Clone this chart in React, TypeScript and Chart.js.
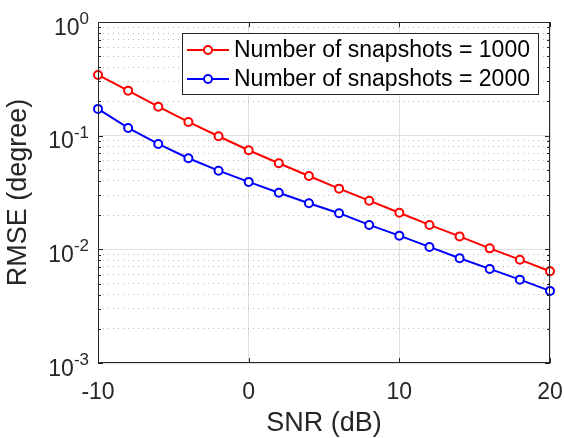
import React, { useEffect, useRef } from 'react';
import { Chart, registerables } from 'chart.js';

Chart.register(...registerables);

// ---- data ----
const SNR_DB = [-10, -8, -6, -4, -2, 0, 2, 4, 6, 8, 10, 12, 14, 16, 18, 20];
const RMSE_1000 = [0.342, 0.249, 0.18, 0.132, 0.0988, 0.0744, 0.0572, 0.0442, 0.0342, 0.0268, 0.021, 0.0164, 0.013, 0.0102, 0.00811, 0.00642];
const RMSE_2000 = [0.172, 0.117, 0.0845, 0.0633, 0.0492, 0.0392, 0.0315, 0.0254, 0.0208, 0.0164, 0.0132, 0.0105, 0.00835, 0.00673, 0.00541, 0.00431];
const SERIES_LABELS = ['Number of snapshots = 1000', 'Number of snapshots = 2000'];
const SERIES_COLORS = ['#ff0000', '#0000ff'];
const X_TICKS = [-10, 0, 10, 20];
const Y_DECADES = [0.001, 0.01, 0.1, 1];
const Y_DECADE_EXPONENTS = ['-3', '-2', '-1', '0'];
const Y_MINOR_MULTIPLIERS = [2, 3, 4, 5, 6, 7, 8, 9];
const X_TITLE = 'SNR (dB)';
const Y_TITLE = 'RMSE (degree)';

const FONT = '"Liberation Sans", Arial, Helvetica, sans-serif';
const INK = '#262626';

const yTickValues: number[] = [];
Y_DECADES.forEach((d, i) => {
  yTickValues.push(d);
  if (i < Y_DECADES.length - 1) Y_MINOR_MULTIPLIERS.forEach((m) => yTickValues.push(m * d));
});
const isMajorY = (v: number) => Y_DECADES.includes(v);

const decorPlugin = {
  id: 'matlabDecor',
  afterDraw(chart: any) {
    const { ctx, chartArea } = chart;
    const { left, right, top, bottom } = chartArea;
    const xs = chart.scales.x;
    const ys = chart.scales.y;
    ctx.save();
    // box
    ctx.strokeStyle = INK;
    ctx.lineWidth = 1;
    ctx.strokeRect(left + 0.5, top + 0.5, right - left - 1, bottom - top - 1);
    // ticks (inward, both sides)
    ctx.beginPath();
    X_TICKS.forEach((v) => {
      const px = Math.round(xs.getPixelForValue(v)) + 0.5;
      ctx.moveTo(px, bottom);
      ctx.lineTo(px, bottom - 5);
      ctx.moveTo(px, top);
      ctx.lineTo(px, top + 5);
    });
    yTickValues.forEach((v) => {
      const py = Math.round(ys.getPixelForValue(v)) + 0.5;
      const len = isMajorY(v) ? 5 : 3;
      ctx.moveTo(left, py);
      ctx.lineTo(left + len, py);
      ctx.moveTo(right, py);
      ctx.lineTo(right - len, py);
    });
    ctx.stroke();
    // y tick labels with superscript exponents
    ctx.fillStyle = INK;
    ctx.textAlign = 'left';
    ctx.textBaseline = 'alphabetic';
    Y_DECADES.forEach((v, i) => {
      const py = ys.getPixelForValue(v);
      const baseFont = `23px ${FONT}`;
      const expFont = `17px ${FONT}`;
      ctx.font = expFont;
      const ew = ctx.measureText(Y_DECADE_EXPONENTS[i]).width;
      ctx.font = baseFont;
      const bw = ctx.measureText('10').width;
      const xRight = left - 9;
      const baseY = py + 12.5;
      ctx.fillText('10', xRight - ew - bw, baseY);
      ctx.font = expFont;
      ctx.fillText(Y_DECADE_EXPONENTS[i], xRight - ew, baseY - 10.5);
    });
    // legend
    const lx = 182, ly = 33, lw = 356, lh = 61;
    ctx.fillStyle = '#ffffff';
    ctx.fillRect(lx, ly, lw, lh);
    ctx.strokeStyle = INK;
    ctx.lineWidth = 1;
    ctx.strokeRect(lx + 0.5, ly + 0.5, lw, lh);
    const rows = [50, 79];
    chart.data.datasets.forEach((ds: any, i: number) => {
      const ry = rows[i];
      ctx.strokeStyle = ds.borderColor;
      ctx.lineWidth = 2;
      ctx.beginPath();
      ctx.moveTo(187, ry);
      ctx.lineTo(229, ry);
      ctx.stroke();
      ctx.beginPath();
      ctx.arc(208, ry, 4, 0, Math.PI * 2);
      ctx.fillStyle = '#ffffff';
      ctx.fill();
      ctx.stroke();
      ctx.fillStyle = '#000000';
      ctx.font = `23px ${FONT}`;
      ctx.textBaseline = 'middle';
      ctx.fillText(ds.label, 234, ry + 1);
    });
    ctx.restore();
  },
};

export default function App() {
  const canvasRef = useRef<HTMLCanvasElement | null>(null);

  useEffect(() => {
    if (!canvasRef.current) return;
    const mkData = (ys: number[]) => SNR_DB.map((x, i) => ({ x, y: ys[i] }));
    const chart = new Chart(canvasRef.current, {
      type: 'line',
      data: {
        datasets: [
          {
            label: SERIES_LABELS[0],
            data: mkData(RMSE_1000),
            borderColor: SERIES_COLORS[0],
            backgroundColor: '#ffffff',
            pointBackgroundColor: '#ffffff',
            pointBorderColor: SERIES_COLORS[0],
            borderWidth: 2,
            pointRadius: 4,
            pointBorderWidth: 2,
            tension: 0,
            clip: false as any,
          },
          {
            label: SERIES_LABELS[1],
            data: mkData(RMSE_2000),
            borderColor: SERIES_COLORS[1],
            backgroundColor: '#ffffff',
            pointBackgroundColor: '#ffffff',
            pointBorderColor: SERIES_COLORS[1],
            borderWidth: 2,
            pointRadius: 4,
            pointBorderWidth: 2,
            tension: 0,
            clip: false as any,
          },
        ],
      },
      options: {
        responsive: false,
        animation: false,
        devicePixelRatio: 1,
        layout: { padding: { top: 22, right: 14, left: 0, bottom: 0 } },
        plugins: {
          legend: { display: false },
          tooltip: { enabled: false },
        },
        scales: {
          x: {
            type: 'linear',
            min: -10,
            max: 20,
            afterBuildTicks: (scale: any) => {
              scale.ticks = X_TICKS.map((v) => ({ value: v }));
            },
            afterFit: (scale: any) => {
              scale.height = 75;
              scale.paddingLeft = 0;
              scale.paddingRight = 0;
            },
            grid: { color: '#dfdfdf', lineWidth: 1, drawTicks: false },
            border: { display: false },
            ticks: {
              color: INK,
              font: { family: FONT, size: 23 },
              padding: 16,
              maxRotation: 0,
              autoSkip: false,
            },
            title: {
              display: true,
              text: X_TITLE,
              color: INK,
              font: { family: FONT, size: 27, lineHeight: 1 },
              padding: { top: 0, bottom: 1 },
            },
          },
          y: {
            type: 'logarithmic',
            min: 0.001,
            max: 1,
            afterBuildTicks: (scale: any) => {
              scale.ticks = yTickValues.map((v) => ({ value: v, major: isMajorY(v) }));
            },
            afterFit: (scale: any) => {
              scale.width = 98;
              scale.paddingTop = 0;
              scale.paddingBottom = 0;
            },
            grid: {
              drawTicks: false,
              lineWidth: 1,
              color: (ctx: any) => (ctx.tick && isMajorY(ctx.tick.value) ? '#dfdfdf' : 'rgba(0,0,0,0.28)'),
            },
            border: {
              display: false,
              dash: (ctx: any) => (ctx.tick && isMajorY(ctx.tick.value) ? [] : [1, 4]),
            } as any,
            ticks: { display: false, autoSkip: false },
            title: {
              display: true,
              text: Y_TITLE,
              color: INK,
              font: { family: FONT, size: 27, lineHeight: 1 },
              padding: { top: 5, bottom: 0 },
            },
          },
        },
      } as any,
      plugins: [decorPlugin],
    });
    return () => chart.destroy();
  }, []);

  return (
    <div style={{ position: 'fixed', left: 0, top: 0, width: 564, height: 438, background: '#ffffff' }}>
      <canvas ref={canvasRef} width={564} height={438} style={{ display: 'block' }} />
    </div>
  );
}
